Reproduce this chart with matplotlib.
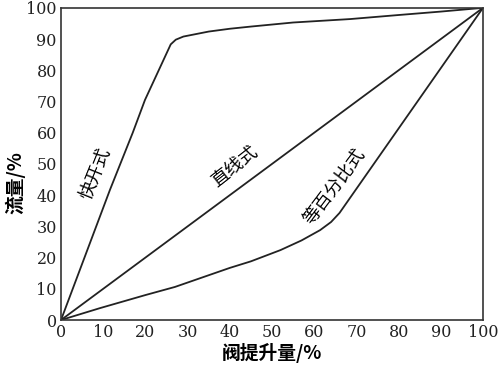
import matplotlib
matplotlib.use('Agg')
import matplotlib.pyplot as plt
import numpy as np

# valve flow characteristics
quick_x = [0, 11.6, 17, 19.9, 23.5, 26, 27.2, 29, 35, 40, 45, 55, 68.5, 80, 90, 100]
quick_y = [0, 41.7, 60, 70.5, 81, 88.3, 89.8, 90.8, 92.4, 93.3, 94, 95.3, 96.4, 97.7, 98.8, 100]
linear_x = [0, 100]
linear_y = [0, 100]
eqpct_x = [0, 9.2, 20, 27, 40, 45, 52, 57, 61.4, 64, 66, 100]
eqpct_y = [0, 3.8, 8, 10.6, 16.7, 18.8, 22.4, 25.5, 28.8, 31.4, 34.3, 100]

ticks = [0, 10, 20, 30, 40, 50, 60, 70, 80, 90, 100]
cjk = ['Noto Sans CJK SC', 'DejaVu Sans']

fig = plt.figure(figsize=(5, 3.73), dpi=100)
ax = fig.add_axes([0.122, 0.142, 0.844, 0.837])

for xs, ys in [(quick_x, quick_y), (linear_x, linear_y), (eqpct_x, eqpct_y)]:
    ax.plot(xs, ys, color='#222222', lw=1.3, solid_joinstyle='round')

ax.set_xlim(0, 100)
ax.set_ylim(0, 100)
ax.set_xticks(ticks)
ax.set_yticks(ticks)
ax.tick_params(length=0, pad=3, labelsize=11.5, colors='#222222')
for lab in ax.get_xticklabels() + ax.get_yticklabels():
    lab.set_family('DejaVu Serif')
for s in ax.spines.values():
    s.set_linewidth(1.2)
    s.set_color('#333333')

ax.set_xlabel('阀提升量/%', family=cjk, fontsize=13.5, fontweight='bold', labelpad=1)
ax.set_ylabel('流量/%', family=cjk, fontsize=13.5, fontweight='bold')
ax.yaxis.set_label_coords(-0.085, 0.44)

ax.text(8.2, 47, '快开式', family=cjk, fontsize=13, rotation=68,
        ha='center', va='center')
ax.text(41.2, 49, '直线式', family=cjk, fontsize=13, rotation=38,
        ha='center', va='center')
ax.text(65, 42.5, '等百分比式', family=cjk, fontsize=13, rotation=53,
        ha='center', va='center')

fig.savefig('out.png', dpi=100)
